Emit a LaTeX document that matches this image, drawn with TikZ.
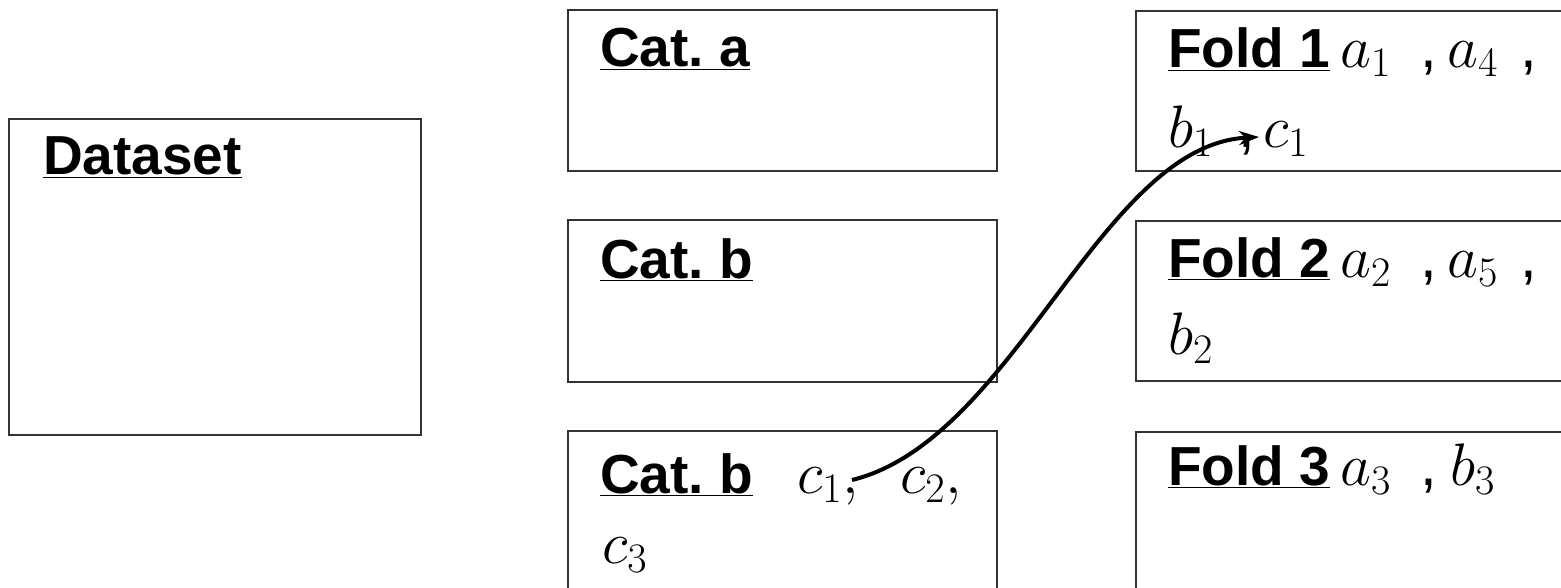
\RequirePackage{fix-cm}
\documentclass[tikz,border=0pt]{standalone}
\usepackage{fontspec}
\setmainfont{Liberation Sans}
\usetikzlibrary{arrows.meta}
\tikzset{
  box/.style={draw=black!80, line width=2pt, fill=none, anchor=north west, inner sep=0pt},
  lbl/.style={anchor=base west, inner sep=0pt, font=\fontsize{55}{60}\selectfont\bfseries},
  mth/.style={anchor=base west, inner sep=0pt, font=\fontsize{60}{66}\selectfont},
  link/.style={line width=4pt, -{Stealth[length=20pt,width=14pt]}}
}
\begin{document}
\begin{tikzpicture}[x=1pt,y=-1pt]
\useasboundingbox (0,0) rectangle (1561,588);
\clip (0,0) rectangle (1561,588);
% boxes
\node[box, minimum width=412pt, minimum height=316pt] (dataset) at (8,118) {};
\node[box, minimum width=429pt, minimum height=161pt] (cata) at (567,9) {};
\node[box, minimum width=429pt, minimum height=162pt] (catb) at (567,219) {};
\node[box, minimum width=429pt, minimum height=220pt] (catc) at (567,430) {};
\node[box, minimum width=485pt, minimum height=160pt] (fold1) at (1135,10) {};
\node[box, minimum width=485pt, minimum height=160pt] (fold2) at (1135,220) {};
\node[box, minimum width=485pt, minimum height=220pt] (fold3) at (1135,431) {};
% labels
\node[lbl] (tds) at (43,175) {\underline{Dataset}};
\node[lbl] (tca) at (600,67) {\underline{Cat.\ a}};
\node[lbl] (tcb) at (600,278) {\underline{Cat.\ b}};
\node[lbl] (tcc) at (600,493) {\underline{Cat.\ b}};
\node[mth] (cc1) at (797,493) {$c_1,$};
\node[mth] (cc2) at (900,493) {$c_2,$};
\node[mth] (cc3) at (602,563) {$c_3$};
% fold 1
\node[lbl] (tf1) at (1168,68) {\underline{Fold 1}};
\node[mth] (fa1) at (1340,68) {$a_1$};
\node[mth] (fk1) at (1420,68) {,};
\node[mth] (fa4) at (1447,68) {$a_4$};
\node[mth] (fk2) at (1520,68) {,};
\node[mth] (fb1) at (1168,148) {$b_1$};
\node[mth] (fk3) at (1238,148) {,};
\node[mth] (fc1) at (1263,148) {$c_1$};
% fold 2
\node[lbl] (tf2) at (1168,277) {\underline{Fold 2}};
\node[mth] (fa2) at (1340,277) {$a_2$};
\node[mth] (fk4) at (1420,277) {,};
\node[mth] (fa5) at (1447,277) {$a_5$};
\node[mth] (fk5) at (1520,277) {,};
\node[mth] (fb2) at (1168,354) {$b_2$};
% fold 3
\node[lbl] (tf3) at (1168,485) {\underline{Fold 3}};
\node[mth] (fa3) at (1340,485) {$a_3$};
\node[mth] (fk6) at (1420,485) {,};
\node[mth] (fb3) at (1450,485) {$b_3$};
% connector
\coordinate (s) at (852,480);
\coordinate (e) at (1259,137);
\draw[link] (s) .. controls (1015,440) and (1100,145) .. (e);
\end{tikzpicture}
\end{document}
